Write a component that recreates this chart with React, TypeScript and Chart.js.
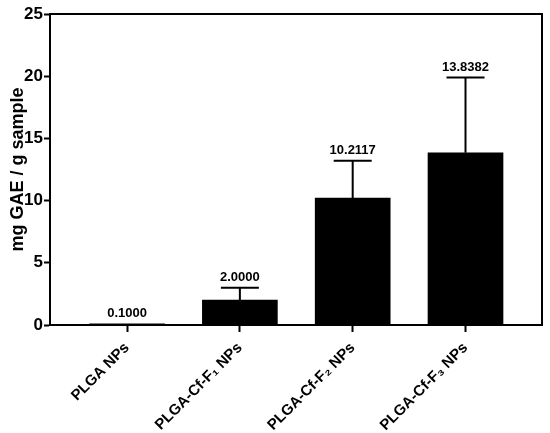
import React, { useEffect, useRef } from "react";
import { Chart, registerables } from "chart.js";

Chart.register(...registerables);

const categories = ["PLGA NPs", "PLGA-Cf-F\u2081 NPs", "PLGA-Cf-F\u2082 NPs", "PLGA-Cf-F\u2083 NPs"];
const positions = [0, 1, 2, 3];
const means = [0.1, 2.0, 10.2117, 13.8382];
const upperErrors = [0.1, 3.0, 13.2, 19.9];
const valueLabels = ["0.1000", "2.0000", "10.2117", "13.8382"];
const yTicks = [0, 5, 10, 15, 20, 25];

const FONT = "'Liberation Sans', Arial, Helvetica, sans-serif";

const framePlugin = {
  id: "frame",
  afterDraw(chart: any) {
    const { ctx, chartArea } = chart;
    ctx.save();
    ctx.strokeStyle = "#000";
    ctx.lineWidth = 2;
    ctx.beginPath();
    ctx.moveTo(chartArea.left, chartArea.top);
    ctx.lineTo(chartArea.right, chartArea.top);
    ctx.lineTo(chartArea.right, chartArea.bottom);
    ctx.stroke();
    ctx.restore();
  },
};

const errorPlugin = {
  id: "errorBars",
  afterDatasetsDraw(chart: any) {
    const { ctx } = chart;
    const meta = chart.getDatasetMeta(0);
    const yScale = chart.scales.y;
    ctx.save();
    meta.data.forEach((bar: any, i: number) => {
      const x = bar.x;
      const yTop = yScale.getPixelForValue(means[i]);
      const yUp = yScale.getPixelForValue(upperErrors[i]);
      ctx.strokeStyle = "#000";
      ctx.lineWidth = 2;
      if (upperErrors[i] > means[i]) {
        ctx.beginPath();
        ctx.moveTo(x, yTop);
        ctx.lineTo(x, yUp);
        ctx.moveTo(x - 19, yUp);
        ctx.lineTo(x + 19, yUp);
        ctx.stroke();
      }
      const top = Math.min(yTop, yUp);
      ctx.fillStyle = "#000";
      ctx.font = `bold 13px ${FONT}`;
      ctx.textAlign = "center";
      ctx.textBaseline = "middle";
      ctx.fillText(valueLabels[i], x, top - 10);
    });
    ctx.restore();
  },
};

export default function App() {
  const canvasRef = useRef<HTMLCanvasElement | null>(null);

  useEffect(() => {
    document.body.style.margin = "0";
    const canvas = canvasRef.current;
    if (!canvas) return;
    const chart = new Chart(canvas, {
      type: "bar",
      data: {
        datasets: [
          {
            data: positions.map((p, i) => ({ x: p, y: means[i] })),
            backgroundColor: "#000",
            borderWidth: 0,
            barThickness: 75,
          },
        ],
      },
      options: {
        responsive: false,
        animation: false,
        devicePixelRatio: 1,
        layout: { padding: { top: 14, right: 8, left: 0, bottom: 0 } },
        plugins: {
          legend: { display: false },
          tooltip: { enabled: false },
        },
        scales: {
          x: {
            type: "linear",
            offset: false,
            min: -0.683,
            max: 3.678,
            afterBuildTicks: (scale: any) => {
              scale.ticks = positions.map((v) => ({ value: v }));
            },
            afterFit: (scale: any) => {
              scale.height = 108;
            },
            grid: {
              display: true,
              offset: false,
              drawOnChartArea: false,
              drawTicks: true,
              tickLength: 7,
              tickWidth: 2,
              tickColor: "#000",
              color: "#000",
            },
            border: { display: true, color: "#000", width: 2 },
            ticks: {
              autoSkip: false,
              maxRotation: 45,
              minRotation: 45,
              padding: 7,
              color: "#000",
              font: { family: FONT, size: 15, weight: "bold" },
              callback: (v: any) => categories[v as number] ?? "",
            },
          },
          y: {
            min: 0,
            max: 25,
            afterBuildTicks: (scale: any) => {
              scale.ticks = yTicks.map((v) => ({ value: v }));
            },
            afterFit: (scale: any) => {
              scale.width = 50;
            },
            grid: {
              display: true,
              drawOnChartArea: false,
              drawTicks: true,
              tickLength: 6,
              tickWidth: 2,
              tickColor: "#000",
              color: "#000",
            },
            border: { display: true, color: "#000", width: 2 },
            ticks: {
              padding: 1,
              color: "#000",
              font: { family: FONT, size: 17, weight: "bold" },
            },
            title: {
              display: true,
              text: "mg GAE / g sample",
              color: "#000",
              font: { family: FONT, size: 18, weight: "bold" },
              padding: { top: 7, bottom: 0 },
            },
          },
        },
      },
      plugins: [framePlugin, errorPlugin],
    });
    return () => chart.destroy();
  }, []);

  return <canvas ref={canvasRef} width={550} height={433} style={{ display: "block" }} />;
}
